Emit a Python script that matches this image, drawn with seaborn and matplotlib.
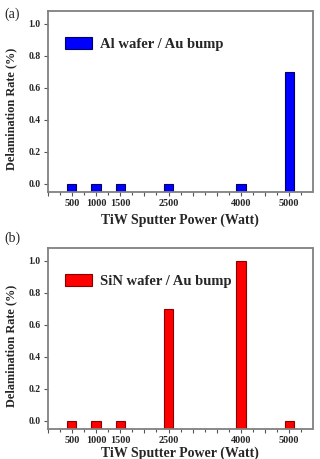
import matplotlib
matplotlib.use("Agg")
import matplotlib.pyplot as plt
import matplotlib.ticker as mticker
import seaborn as sns
import pandas as pd

power = [500, 1000, 1500, 2500, 4000, 5000]
rate_al = [0.0, 0.0, 0.0, 0.0, 0.0, 0.7]
rate_sin = [0.0, 0.0, 0.0, 0.7, 1.0, 0.0]
label_al = "Al wafer / Au bump"
label_sin = "SiN wafer / Au bump"
xlabel = "TiW Sputter Power (Watt)"
ylabel = "Delamination Rate (%)"
yticks = [0.0, 0.2, 0.4, 0.6, 0.8, 1.0]

sns.set_style("white")
plt.rcParams["font.family"] = ["Liberation Serif", "DejaVu Serif"]

fig = plt.figure(figsize=(3.2, 4.59), dpi=100)
W, H = 320, 459

def make_ax(top_px, bottom_px):
    left, right = 47.7, 312.5
    return fig.add_axes([left / W, 1 - bottom_px / H, (right - left) / W, (bottom_px - top_px) / H])

ax_a = make_ax(11, 192.3)
ax_b = make_ax(248, 429)

YLO, YHI = -0.052, 1.08

panels = [
    (ax_a, rate_al, "#0000ff", "#00006a", label_al, "(a)", 14, 3.5),
    (ax_b, rate_sin, "#ff0000", "#8a0000", label_sin, "(b)", 238, 0.8),
]

for ax, vals, fc, ec, lab, tag, tag_y, xpad in panels:
    df = pd.DataFrame({"power": power, "rate": vals})
    sns.barplot(data=df, x="power", y="rate", native_scale=True, width=0.38,
                color=fc, saturation=1, edgecolor=ec, linewidth=0.8,
                label=lab, ax=ax, err_kws={"linewidth": 0})
    for p in ax.patches:
        h = p.get_height()
        p.set_y(YLO)
        p.set_height(h - YLO)
    ax.set_xlim(0, 5480)
    ax.set_ylim(YLO, YHI)
    ax.set_yticks(yticks)
    ax.yaxis.set_major_formatter(mticker.FormatStrFormatter("%.1f"))
    ax.xaxis.set_major_locator(mticker.MultipleLocator(500))
    ax.xaxis.set_minor_locator(mticker.MultipleLocator(250))
    ax.xaxis.set_major_formatter(mticker.FuncFormatter(
        lambda v, pos: f"{int(round(v))}" if int(round(v)) in power else ""))
    ax.tick_params(axis="x", which="major", labelsize=7.3)
    ax.tick_params(axis="y", which="major", labelsize=7)
    for lbl in ax.get_xticklabels() + ax.get_yticklabels():
        lbl.set_fontweight("bold")
    ax.tick_params(axis="both", which="major", direction="out",
                   length=3, width=0.8, color="#555555", pad=2,
                   bottom=True, left=True, top=False, right=False)
    ax.tick_params(axis="x", which="minor", direction="out", length=2,
                   width=0.8, color="#555555", bottom=True)
    for s in ax.spines.values():
        s.set_color("#808080")
        s.set_linewidth(1.3)
    ax.set_xlabel(xlabel, fontsize=10, fontweight="bold", labelpad=xpad)
    ax.set_ylabel(ylabel, fontsize=8.8, fontweight="bold")
    ax.yaxis.set_label_coords(-0.113, 0.46)
    leg = ax.legend(loc="upper left", frameon=False,
                    prop={"weight": "bold", "size": 10.5},
                    handlelength=1.85, handleheight=0.95, handletextpad=0.55,
                    borderaxespad=0.3, bbox_to_anchor=(0.025, 0.915))
    fig.text(4 / W, 1 - tag_y / H, tag, fontsize=10, va="center", ha="left")

fig.savefig("out.png", dpi=100)
